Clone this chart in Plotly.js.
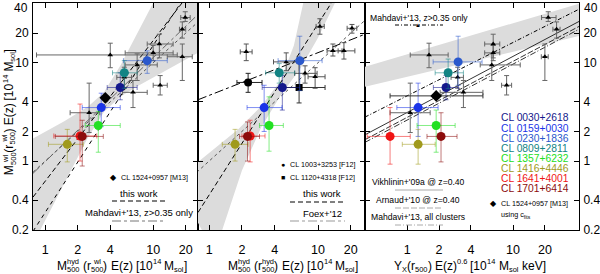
<!DOCTYPE html>
<html><head><meta charset="utf-8">
<script src="https://cdn.plot.ly/plotly-3.0.1.min.js"></script>
<style>html,body{margin:0;padding:0;background:#fff}#plot{width:600px;height:274px}</style>
</head><body><div id="plot"></div>
<script>
// ---------------- DATA ----------------
const yTicks = [0.2, 0.4, 1, 2, 4, 10, 20];
const topLabel = '40';
const xTicks = [1, 2, 4, 10, 20];
const yRange = [0.199, 40.5];
const x1Range = [0.77, 26];
const x2Range = [0.79, 27];
const x3Range = [0.40, 42];

const clusterNames = ['CL 0030+2618','CL 0159+0030','CL 0230+1836','CL 0809+2811','CL 1357+6232','CL 1416+4446','CL 1641+4001','CL 1701+6414'];
const clusterColors = ['#14188c','#1a34e8','#2a58cc','#128484','#22e022','#a09a1c','#f01414','#8c0c0c'];

// panel 1: M_hyd(r_wl) vs M_wl
const p1X   = [4.95, 3.3, 8.8, 5.4, 3.1, 1.6, 2.1, 2.2];
const p1XLo = [3.75, 2.2, 5.3, 4.2, 2.35, 1.07, 1.2, 1.24];
const p1XHi = [7.1, 4.95, 13.5, 7.1, 4.95, 2.25, 3.0, 3.45];
const p1Y   = [5.6, 3.5, 10.5, 7.9, 2.3, 1.48, 1.8, 1.78];
const p1YLo = [4.2, 2.24, 7.8, 5.5, 1.23, 0.98, 1.0, 0.89];
const p1YHi = [7.9, 4.9, 13.2, 10.5, 3.2, 2.1, 3.8, 2.6];

// panel 2: M_hyd(r_hyd) vs M_wl
const p2X   = [4.7, 3.2, 6.8, 4.4, 3.55, 1.73, 2.38, 2.25];
const p2XLo = [3.07, 2.23, 4.3, 3.3, 2.9, 1.32, 2.0, 1.9];
const p2XHi = [6.8, 4.67, 10.9, 6.1, 4.8, 2.28, 3.26, 2.9];
const p2Y   = [5.6, 3.5, 10.5, 7.9, 2.3, 1.48, 1.8, 1.78];
const p2YLo = [3.3, 2.0, 5.2, 6.2, 1.26, 1.0, 0.98, 1.0];
const p2YHi = [7.4, 5.9, 18.6, 9.8, 4.5, 2.1, 2.6, 2.5];

// panel 3: Y_X vs M_wl
const p3X   = [2.33, 1.27, 3.03, 2.44, 1.88, 1.27, 0.69, 2.09];
const p3XLo = [1.77, 0.8, 1.76, 1.84, 1.24, 0.9, 0.42, 1.54];
const p3XHi = [3.05, 1.96, 5.1, 3.4, 2.84, 1.84, 1.07, 2.96];
const p3Y   = [5.6, 3.5, 10.2, 7.9, 2.3, 1.48, 1.78, 1.78];
const p3YLo = [4.2, 1.78, 5.9, 5.45, 1.23, 0.93, 0.93, 0.98];
const p3YHi = [7.4, 6.2, 18.6, 10.9, 3.3, 2.1, 3.5, 3.1];

// CL 1524+0957 [M13]
const m13X1 = [3.6], m13Y1 = [4.4];
const m13X3 = [1.88], m13X3Lo = [0.69], m13X3Hi = [5.2], m13Y3 = [4.6];

// Mahdavi+13 z>0.35 clusters (black triangles)
const mahY   = [12.0, 28.8, 21.9, 15.5, 12.6, 11.5, 9.5, 5.9, 5.0, 7.1, 3.1];
const mahYLo = [8.9, 26.3, 17.8, 11.2, 10.5, 6.6, 6.6, 4.7, 3.5, 5.5, 1.95];
const mahYHi = [15.8, 33, 26, 19.5, 15, 15.5, 12.3, 7.4, 6.6, 9.0, 6.2];
const mahX1   = [4.0, 19.8, 18.6, 11.4, 10, 18.6, 7.1, 11.6, 6.5, 5.4, 2.55];
const mahX1Lo = [0.83, 18, 17.5, 8.8, 5.5, 13.5, 5.5, 10, 5.2, 4.6, 1.7];
const mahX1Hi = [16.7, 22, 20, 15.3, 15.3, 23, 10.9, 13.5, 8.8, 6.3, 3.2];
const mahX3   = [1.61, 21.5, 25.8, 6.5, 6.5, 20, 6.3, 8.7, 3.4, 3.0, 1.07];
const mahX3Lo = [1.07, 18.6, 23.8, 5.4, 5.4, 18.5, 4.9, 7.8, 2.05, 2.6, 0.69];
const mahX3Hi = [2.44, 25.5, 27.8, 7.5, 7.5, 21.5, 11.7, 9.7, 5.2, 3.4, 1.65];

// Foex+12 clusters in panel 2 (black triangles)
const foexX   = [2.19, 10.4, 20.5, 13.7, 17.3, 5.1, 7.6, 9.4];
const foexXLo = [1.93, 9.6, 18.5, 12.1, 15.3, 3.9, 6.1, 8.1];
const foexXHi = [2.48, 11.4, 22.7, 16.6, 21.8, 6.8, 9.8, 11.6];
const foexY   = [12.9, 23.4, 22.4, 13.2, 13.2, 10.2, 7.8, 7.2];
const foexYLo = [10.5, 19.5, 20, 11.7, 10.9, 8.3, 6.2, 5.5];
const foexYHi = [15.5, 28, 24.5, 15.5, 16, 12.6, 9.3, 8.9];
// F12 named clusters
const f12CircX = [2.28], f12CircXLo = [1.8], f12CircXHi = [3.06], f12CircY = [6.3], f12CircYLo = [5.0], f12CircYHi = [7.8];
const f12SqX = [6.7], f12SqXLo = [5.0], f12SqXHi = [11.6], f12SqY = [5.6], f12SqYLo = [3.9], f12SqYHi = [9.8];

// scaling relations / fits (line end points)
const oneToOneX = [0.3, 50], oneToOneY = [0.3, 50];
const work1X = [0.77, 26], work1Y = [0.43, 66];
const work1bX = [0.77, 26], work1bY = [0.193, 76];
const mahz1X = [0.77, 26], mahz1Y = [0.75, 31];
const work2X = [0.79, 27], work2Y = [0.30, 140];
const foexLX = [0.79, 27], foexLY = [4.2, 19.5];
const mahz3X = [0.40, 42], mahz3Y = [2.8, 35];
const vikhX  = [0.40, 42], vikhY  = [1.85, 26.3];
const arnX   = [0.40, 42], arnY   = [1.65, 23.4];
const mahAllX = [0.40, 42], mahAllY = [1.55, 21.9];

// confidence bands (edge points)
const band1UpX = [0.5, 0.77, 1.5, 2.5, 3.5, 5, 7, 10.5, 40];
const band1UpY = [1.3, 1.7, 2.54, 3.58, 5.0, 9.5, 19.1, 45, 500];
const band1LoX = [40, 26, 15, 10, 7, 5, 3.5, 2.5, 1.5, 0.77, 0.5];
const band1LoY = [14, 12.6, 9.1, 7.1, 5.71, 4.54, 3.18, 1.76, 0.60, 0.143, 0.05];
const band2UpX = [0.5, 0.79, 1.85, 3.0, 4.5, 6.0, 7.3, 8.0];
const band2UpY = [0.6, 0.98, 2.1, 3.6, 6.5, 15, 40, 60];
const band2LoX = [17, 14.3, 10, 7, 4.5, 3.0, 2.0, 1.32, 1.2];
const band2LoY = [60, 40, 18, 9, 4.6, 2.2, 0.8, 0.2, 0.1];
const band3UpX = [0.3, 50], band3UpY = [8.3, 42];
const band3LoX = [50, 0.3], band3LoY = [19.5, 5.3];

// ---------------- HELPERS ----------------
const FONT = 'Liberation Sans, Arial, sans-serif';
const L = 33, R = 579, T = 3, B = 230;
const P = px => (px - L) / (R - L);
const Q = py => (B - py) / (B - T);
const lg = v => Math.log10(v);

function rgba(hex, a){
  const n = parseInt(hex.slice(1), 16);
  return `rgba(${(n>>16)&255},${(n>>8)&255},${n&255},${a})`;
}
function errs(v, lo, hi){ return {plus: hi.map((h,i)=>h-v[i]), minus: lo.map((l,i)=>v[i]-l)}; }

const traces = [];
function band(ux, uy, lx, ly, xa, ya){
  traces.push({x: ux.concat(lx), y: uy.concat(ly), xaxis: xa, yaxis: ya, type:'scatter', mode:'lines',
    fill:'toself', fillcolor:'#dcdcdc', line:{width:0}, hoverinfo:'skip', showlegend:false});
}
function line(x, y, xa, ya, dash, color, width){
  traces.push({x, y, xaxis: xa, yaxis: ya, type:'scatter', mode:'lines',
    line:{color: color||'#000', width: width||1, dash}, hoverinfo:'skip', showlegend:false});
}
function pts(x, xlo, xhi, y, ylo, yhi, xa, ya, sym, size, color, ecol){
  const o = {x, y, xaxis: xa, yaxis: ya, type:'scatter', mode:'markers',
    marker:{symbol: sym, size, color}, hoverinfo:'skip', showlegend:false};
  if (xlo) { const e = errs(x, xlo, xhi); o.error_x = {type:'data', symmetric:false, array:e.plus, arrayminus:e.minus, color:ecol, thickness:1, width:2.5}; }
  if (ylo) { const e = errs(y, ylo, yhi); o.error_y = {type:'data', symmetric:false, array:e.plus, arrayminus:e.minus, color:ecol, thickness:1, width:2.5}; }
  traces.push(o);
}

band(band1UpX, band1UpY, band1LoX, band1LoY, 'x', 'y');
band(band2UpX, band2UpY, band2LoX, band2LoY, 'x2', 'y2');
band(band3UpX, band3UpY, band3LoX, band3LoY, 'x3', 'y3');

line(oneToOneX, oneToOneY, 'x', 'y', 'dot', '#555');
line(mahz1X, mahz1Y, 'x', 'y', 'dashdot', '#666');
line(work1X, work1Y, 'x', 'y', '5px,3px', '#000');
line(work1bX, work1bY, 'x', 'y', '4px,4px', '#000');
line(oneToOneX, oneToOneY, 'x2', 'y2', 'dot', '#555');
line(foexLX, foexLY, 'x2', 'y2', 'dashdot', '#000');
line(work2X, work2Y, 'x2', 'y2', '5px,3px', '#000');
line(vikhX, vikhY, 'x3', 'y3', 'solid', '#000', 0.8);
line(arnX, arnY, 'x3', 'y3', '6px,2px', '#000', 0.8);
line(mahAllX, mahAllY, 'x3', 'y3', '6px,2px,1px,2px', '#000', 0.8);
line(mahz3X, mahz3Y, 'x3', 'y3', '4px,2px,1px,2px', '#000', 1);

pts(mahX1, mahX1Lo, mahX1Hi, mahY, mahYLo, mahYHi, 'x', 'y', 'triangle-up', 5, '#000', '#666');
pts(foexX, foexXLo, foexXHi, foexY, foexYLo, foexYHi, 'x2', 'y2', 'triangle-up', 5, '#000', '#555');
pts(mahX3, mahX3Lo, mahX3Hi, mahY, mahYLo, mahYHi, 'x3', 'y3', 'triangle-up', 5, '#000', '#666');

pts(f12CircX, f12CircXLo, f12CircXHi, f12CircY, f12CircYLo, f12CircYHi, 'x2', 'y2', 'circle', 8, '#000', '#222');
pts(f12SqX, f12SqXLo, f12SqXHi, f12SqY, f12SqYLo, f12SqYHi, 'x2', 'y2', 'square', 7, '#000', '#333');

const panels = [
  [p1X,p1XLo,p1XHi,p1Y,p1YLo,p1YHi,'x','y'],
  [p2X,p2XLo,p2XHi,p2Y,p2YLo,p2YHi,'x2','y2'],
  [p3X,p3XLo,p3XHi,p3Y,p3YLo,p3YHi,'x3','y3']];
panels.forEach(p => {
  clusterNames.forEach((n, i) => {
    pts([p[0][i]], [p[1][i]], [p[2][i]], [p[3][i]], [p[4][i]], [p[5][i]], p[6], p[7], 'circle', 9, clusterColors[i], rgba(clusterColors[i], 0.55));
  });
});
pts(m13X1, null, null, m13Y1, null, null, 'x', 'y', 'diamond', 9, '#000', '#000');
pts(m13X3, m13X3Lo, m13X3Hi, m13Y3, null, null, 'x3', 'y3', 'diamond', 9, '#000', '#333');

// ---------------- AXES ----------------
function xax(range, d0, d1, anchor){
  return {type:'log', range:[lg(range[0]), lg(range[1])], domain:[d0, d1], anchor,
    tickvals: xTicks, ticktext: xTicks.map(String), ticks:'inside', ticklen:5, tickcolor:'#000',
    showline:true, linecolor:'#000', linewidth:1, mirror:'ticks', showgrid:false, zeroline:false,
    tickfont:{family:FONT, size:12.5, color:'#000'}, ticklabelstandoff: 8};
}
function yax(anchor, showLabels, side){
  return {type:'log', range:[lg(yRange[0]), lg(yRange[1])], domain:[0,1], anchor, side,
    tickvals: yTicks, ticktext: yTicks.map(String), ticks:'inside', ticklen:5, tickcolor:'#000',
    showline:true, linecolor:'#000', linewidth:1, mirror:'ticks', showgrid:false, zeroline:false,
    ticklabeloverflow:'allow',
    showticklabels: showLabels, tickfont:{family:FONT, size:12, color:'#000'}, ticklabelstandoff: 1};
}
const d1 = P(198), d2 = P(365);

// ---------------- TEXT ----------------
const cv = document.createElement('canvas').getContext('2d');
function meas(t, s){ cv.font = s + 'px "Liberation Sans"'; return cv.measureText(t).width; }
function rich(segs, size, cx, cy, vertical){
  const ss = size * 0.62;
  const w = segs.map(s => s.gap !== undefined ? s.gap : (s.t !== undefined ? meas(s.t, size) : Math.max(s.sup ? meas(s.sup, ss) : 0, s.sub ? meas(s.sub, ss) : 0)));
  const tot = w.reduce((a,b)=>a+b, 0);
  let pos = -tot/2; const out = [];
  segs.forEach((s, i) => {
    const c = pos + w[i]/2;
    let items = [];
    if (s.t !== undefined) items.push({text:s.t, size, off:0});
    else if (s.gap === undefined) {
      if (s.sup) items.push({text:s.sup, size:ss, off:size*0.34});
      if (s.sub) items.push({text:s.sub, size:ss, off:-size*0.32});
    }
    items.forEach(it => {
      const px = vertical ? cx - it.off : cx + c;
      const py = vertical ? cy - c : cy - it.off;
      out.push({xref:'paper', yref:'paper', x:P(px), y:Q(py), xanchor:'center', yanchor:'middle',
        text: it.text, showarrow:false, textangle: vertical ? -90 : 0,
        font:{family:FONT, size:it.size, color:'#000'}});
    });
    pos += w[i];
  });
  return out;
}
const sp = 3.3;
const ann = [];
ann.push(...rich([{t:'M'},{sup:'wl',sub:'500'},{t:'(r'},{sup:'wl',sub:'500'},{t:')'},{gap:sp},{t:'E(z)'},{gap:sp},{t:'[10'},{sup:'14'},{gap:sp},{t:'M'},{sub:'sol'},{t:']'}], 12, 9, 112, true));
ann.push(...rich([{t:'M'},{sup:'hyd',sub:'500'},{gap:sp},{t:'(r'},{sup:'wl',sub:'500'},{t:')'},{gap:sp},{t:'E(z)'},{gap:sp},{t:'[10'},{sup:'14'},{gap:sp},{t:'M'},{sub:'sol'},{t:']'}], 12, 122, 266, false));
ann.push(...rich([{t:'M'},{sup:'hyd',sub:'500'},{gap:sp},{t:'(r'},{sup:'hyd',sub:'500'},{t:')'},{gap:sp},{t:'E(z)'},{gap:sp},{t:'[10'},{sup:'14'},{gap:sp},{t:'M'},{sub:'sol'},{t:']'}], 12, 293, 266, false));
ann.push(...rich([{t:'Y'},{sub:'X'},{t:'(r'},{sub:'500'},{t:')'},{gap:sp},{t:'E(z)'},{sup:'0.6'},{gap:sp},{t:'[10'},{sup:'14'},{gap:sp},{t:'M'},{sub:'sol'},{gap:sp},{t:'keV]'}], 12, 470, 266, false));

function txt(t, px, py, size, anchor, color){
  ann.push({xref:'paper', yref:'paper', x:P(px), y:Q(py), xanchor:anchor||'left', yanchor:'middle',
    text:t, showarrow:false, font:{family:FONT, size, color:color||'#000'}});
}
txt(topLabel, 30, 8, 12, 'right');
txt(topLabel, 582, 8, 12, 'left');

const shapes = [];
function lseg(x0, x1, py, dash, color){
  shapes.push({type:'line', xref:'paper', yref:'paper', x0:P(x0), x1:P(x1), y0:Q(py), y1:Q(py),
    line:{color: color||'#000', width:1, dash}});
}
// left legend
txt('◆', 113, 177, 8, 'center');
txt('CL 1524+0957 [M13]', 119, 177, 7.2);
txt('this work', 139, 193, 9.5, 'center');
lseg(112, 165, 201, '5px,3px');
txt("Mahdavi+'13, z>0.35 only", 139, 212, 9.5, 'center');
lseg(112, 165, 221, 'dashdot', '#777');
// middle legend
txt('●', 283, 164, 7, 'center');
txt('CL 1003+3253 [F12]', 288, 164, 7.2);
txt('■', 283, 177, 7, 'center');
txt('CL 1120+4318 [F12]', 288, 177, 7.2);
txt('this work', 322, 193, 9.5, 'center');
lseg(290, 345, 202, '5px,3px');
txt("Foex+'12", 322, 213, 9.5, 'center');
lseg(290, 345, 221, 'dashdot', '#999');
// right legend
txt("Mahdavi+'13, z>0.35 only", 368, 18, 8.6);
lseg(395, 443, 25, '4px,2px,1px,2px');
txt('▲', 418, 25, 6, 'center');
clusterNames.forEach((n, i) => txt(n, 499, 118 + i*10.05, 10.3, 'left', clusterColors[i]));
txt('◆', 493, 203, 8, 'center');
txt('CL 1524+0957 [M13]', 499, 203, 7.2);
txt('using c<sub>fits</sub>', 499, 215, 7.2);
txt("Vikhlinin+'09a @ z=0.40", 418, 182, 8.6, 'center');
lseg(395, 443, 190, 'solid', '#aaa');
txt("Arnaud+'10 @ z=0.40", 418, 200, 8.6, 'center');
lseg(395, 443, 208, '6px,2px', '#aaa');
txt("Mahdavi+'13, all clusters", 418, 217, 8.6, 'center');
lseg(395, 443, 225, '6px,2px,1px,2px', '#aaa');

const layout = {
  width:600, height:274, margin:{l:L, r:600-R, t:T, b:274-B},
  paper_bgcolor:'#fff', plot_bgcolor:'rgba(0,0,0,0)', showlegend:false,
  xaxis: xax(x1Range, 0, d1, 'y'),
  xaxis2: xax(x2Range, d1, d2, 'y2'),
  xaxis3: xax(x3Range, d2, 1, 'y3'),
  yaxis: yax('x', true, 'left'),
  yaxis2: yax('x2', false, 'left'),
  yaxis3: yax('x3', true, 'right'),
  annotations: ann, shapes
};
Plotly.newPlot('plot', traces, layout, {staticPlot:true, displayModeBar:false});
</script></body></html>
